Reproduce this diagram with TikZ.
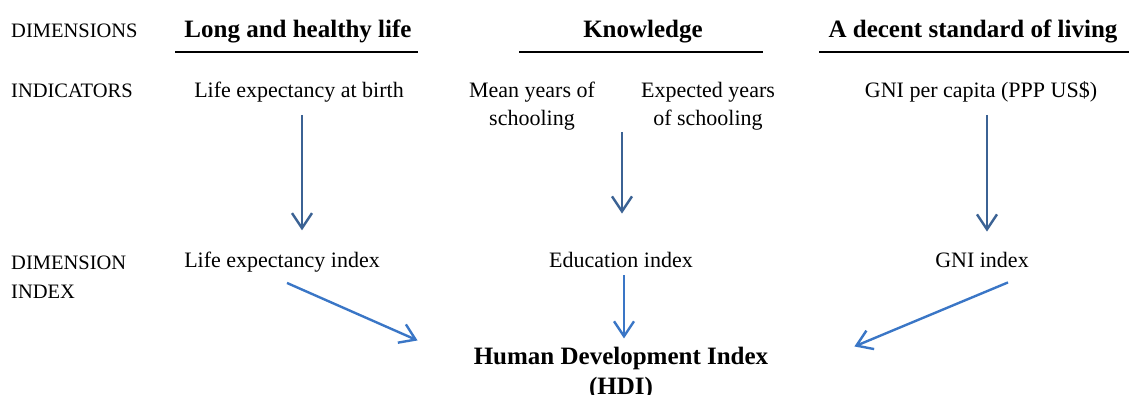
\documentclass[tikz,border=0pt]{standalone}
\usepackage{fontspec}
\setmainfont{Liberation Serif}
\usetikzlibrary{arrows.meta}

\definecolor{indblue}{HTML}{3B6294}
\definecolor{hdiblue}{HTML}{3A76C6}

\begin{document}
\begin{tikzpicture}[
    x = 1pt, y = -1pt,
    %
    rowname/.style = {font = \fontsize{20.5}{29}\selectfont,
      inner sep = 0pt, anchor = base west, align = left},
    entry/.style = {font = \fontsize{22}{28}\selectfont,
      inner sep = 0pt, anchor = base, align = center},
    heading/.style = {font = \fontsize{25}{30}\selectfont\bfseries,
      inner sep = 0pt, anchor = base, align = center},
    %
    rule/.style = {line width = 2.5pt},
    indarrow/.style = {draw = indblue, line width = 2.4pt,
      -{Straight Barb[length = 15pt, width = 20pt]}},
    hdiarrow/.style = {draw = hdiblue, line width = 2.4pt,
      -{Straight Barb[length = 15pt, width = 20pt]}},
    ]

    \useasboundingbox (0, 0) rectangle (1129, 394);

    % row names (base = last line)
    \node at (11, 37) [rowname, name = dims] {DIMENSIONS};
    \node at (11, 97) [rowname, name = inds] {INDICATORS};
    \node at (11, 298) [rowname, name = dimidx] {DIMENSION\\INDEX};

    % dimensions
    \node at (298, 37) [heading, name = health] {Long and healthy life};
    \node at (643, 37) [heading, name = knowledge] {Knowledge};
    \node at (973, 37) [heading, name = living] {A decent standard of living};

    \draw [rule] (175, 52) -- (418, 52);
    \draw [rule] (519, 52) -- (763, 52);
    \draw [rule] (819, 52) -- (1129, 52);

    % indicators
    \node at (299, 97) [entry, name = birth] {Life expectancy at birth};
    \node at (532, 125) [entry, name = mean] {Mean years of\\schooling};
    \node at (708, 125) [entry, name = expected] {Expected years\\of schooling};
    \node at (981, 97) [entry, name = gnipc] {GNI per capita (PPP US\$)};

    % dimension indices
    \node at (282, 267) [entry, name = lei] {Life expectancy index};
    \node at (621, 267) [entry, name = edu] {Education index};
    \node at (982, 267) [entry, name = gni] {GNI index};

    \node at (621, 394) [heading, name = hdi] {Human Development Index\\(HDI)};

    \draw [indarrow] ([shift = {(3, 13)}] birth.south)
    to ([shift = {(3, -21)}] birth.south |- lei.north);

    \draw [indarrow] ([shift = {(1, 2)}] edu.north |- mean.south)
    to ([shift = {(1, -38)}] edu.north);

    \draw [indarrow] ([shift = {(6, 13)}] gnipc.south)
    to ([shift = {(6, -20)}] gnipc.south |- gni.north);

    \draw [hdiarrow] ([shift = {(5, 11)}] lei.south)
    to ([shift = {(-56, -6)}] hdi.north west);

    \draw [hdiarrow] ([shift = {(3, 8)}] edu.south)
    to ([shift = {(3, -8)}] hdi.north);

    \draw [hdiarrow] ([shift = {(26, 15)}] gni.south)
    to ([shift = {(86, 0)}] hdi.north east);

  \end{tikzpicture}
\end{document}
